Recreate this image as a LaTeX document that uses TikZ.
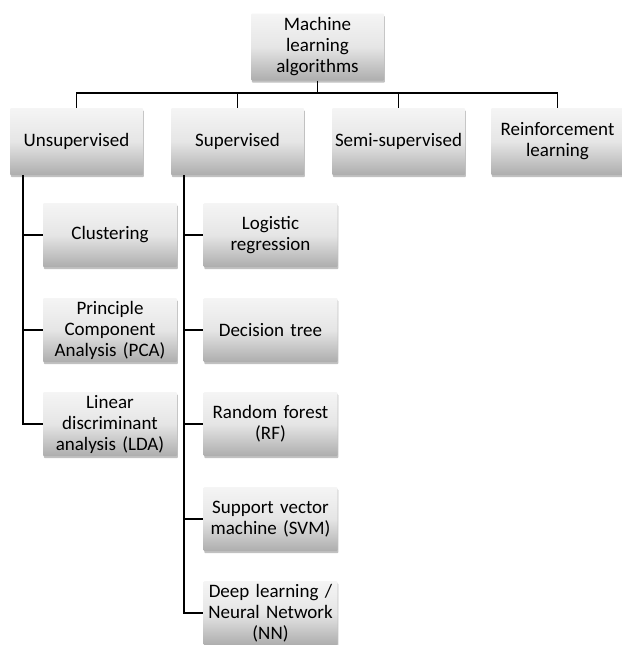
\documentclass[tikz,border=0pt]{standalone}
\usepackage{fontspec}
\setmainfont{Carlito}
\usetikzlibrary{shadows}
\begin{document}
\begin{tikzpicture}[x=1pt,y=-1pt,
  box/.style={rectangle, rounded corners=1pt, draw=none, top color=black!4, bottom color=black!32,
    middle color=black!10, align=center, inner sep=1pt,
    font=\fontsize{19}{21}\selectfont,
    drop shadow={shadow xshift=0.8pt, shadow yshift=-2.2pt, opacity=0.35, fill=black!70}},
  lvl/.style={box, minimum width=133pt, minimum height=67pt, text width=131pt},
  kid/.style={box, minimum width=134pt, minimum height=64pt, text width=132pt},
  conn/.style={draw=black, line width=1.6pt}]
\useasboundingbox (0,0) rectangle (621,645);
\node[lvl, minimum width=131pt] (top) at (317.5,47) {Machine\\learning\\algorithms};
\node[lvl] (unsup) at (76.5,141.5) {Unsupervised};
\node[lvl] (sup) at (237.5,141.5) {Supervised};
\node[lvl] (semi) at (398.5,141.5) {Semi-supervised};
\node[lvl] (reinf) at (557.5,141.5) {Reinforcement\\learning};
\node[kid] (clus) at (110,235) {Clustering};
\node[kid] (pca) at (110,330) {Principle\\Component\\Analysis (PCA)};
\node[kid] (lda) at (110,424) {Linear\\discriminant\\analysis (LDA)};
\node[kid] (logr) at (270.5,235) {Logistic\\regression};
\node[kid] (dt) at (270.5,330) {Decision tree};
\node[kid] (rf) at (270.5,424) {Random forest\\(RF)};
\node[kid] (svm) at (270.5,519) {Support vector\\machine (SVM)};
\node[kid] (nn) at (270.5,613) {Deep learning /\\Neural Network\\(NN)};
\coordinate (bar) at (0,93);
\coordinate (ul) at (23,175);
\coordinate (sl) at (184,175);
\draw[conn] (top.south) -- (top.south |- bar);
\draw[conn] (unsup.north) -- (unsup.north |- bar) -| (reinf.north);
\draw[conn] (sup.north) -- (sup.north |- bar);
\draw[conn] (semi.north) -- (semi.north |- bar);
\draw[conn] (ul) |- (lda.west);
\draw[conn] (ul |- clus.west) -- (clus.west);
\draw[conn] (ul |- pca.west) -- (pca.west);
\draw[conn] (sl) |- (nn.west);
\draw[conn] (sl |- logr.west) -- (logr.west);
\draw[conn] (sl |- dt.west) -- (dt.west);
\draw[conn] (sl |- rf.west) -- (rf.west);
\draw[conn] (sl |- svm.west) -- (svm.west);
\end{tikzpicture}
\end{document}
